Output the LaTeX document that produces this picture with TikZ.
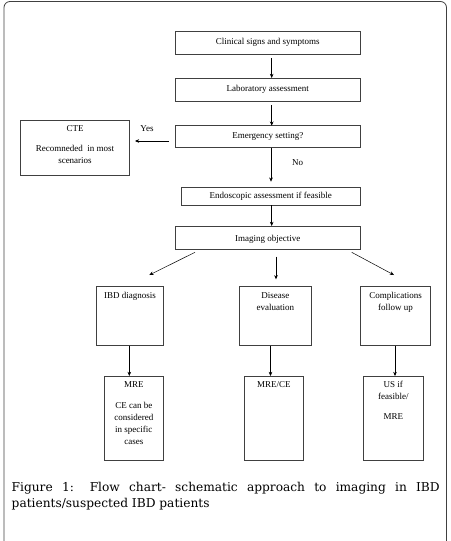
\documentclass[tikz,border=0pt]{standalone}
\usepackage{fontspec}
\setmainfont{Liberation Serif}
\newfontfamily\capfont{DejaVu Serif}
\usetikzlibrary{arrows.meta}
\begin{document}
\begin{tikzpicture}[x=1pt,y=-1pt,
  box/.style={draw=black!75, line width=0.6pt, inner sep=0pt, outer sep=0pt,
    font=\fontsize{9}{12.2}\selectfont, text height=6pt, text depth=2pt},
  txt/.style={inner sep=0pt, align=center, anchor=north, font=\fontsize{9}{12.2}\selectfont},
  lbl/.style={inner sep=0pt, font=\fontsize{9}{12.2}\selectfont, text height=6pt, text depth=2pt},
  arr/.style={line width=0.5pt, -{Stealth[length=4.2pt,width=3.6pt]}}]
\useasboundingbox (0,0) rectangle (450,541);
\draw[black!75, line width=0.8pt, rounded corners=6pt] (4,1.5) rectangle (446.5,548);

% top boxes
\node[box, minimum width=184.3pt, minimum height=22.3pt] (clin) at (267.85,42.85) {Clinical signs and symptoms};
\node[box, minimum width=184.3pt, minimum height=23pt] (lab) at (267.85,89.5) {Laboratory assessment};
\node[box, minimum width=184.3pt, minimum height=22pt] (emer) at (267.85,136.7) {Emergency setting?};
\node[box, minimum width=108.6pt, minimum height=54.3pt] (cte) at (75,147.85) {};
\node[box, minimum width=178.3pt, minimum height=17.7pt] (endo) at (270.85,196.15) {Endoscopic assessment if feasible};
\node[box, minimum width=184.3pt, minimum height=23pt, text height=7.5pt, text depth=0.5pt] (img) at (267.85,237.5) {Imaging objective};

% middle boxes
\node[box, minimum width=66.6pt, minimum height=59pt] (ibd) at (130,316.2) {};
\node[box, minimum width=72.7pt, minimum height=59pt] (dis) at (275.35,316.2) {};
\node[box, minimum width=70.4pt, minimum height=59pt] (comp) at (395.5,316.2) {};

% bottom boxes
\node[box, minimum width=59pt, minimum height=84pt] (mre) at (133.8,418) {};
\node[box, minimum width=59pt, minimum height=84pt] (mrece) at (273.8,418) {};
\node[box, minimum width=60pt, minimum height=84pt] (us) at (393.3,418) {};

% texts in boxes
\node[txt] (cteT) at (75,122.76) {\strut CTE\\[7.6pt]Recomneded\ \ in most\\scenarios};
\node[txt] (ibdT) at (130,289.46) {\strut IBD diagnosis};
\node[txt] (disT) at (275.35,289.46) {\strut Disease\\evaluation};
\node[txt] (compT) at (395.5,289.46) {\strut Complications\\follow up};
\node[txt] (mreT) at (133.8,378.76) {\strut MRE\\[8.5pt]CE can be\\considered\\in specific\\cases};
\node[txt] (mreceT) at (273.8,378.76) {\strut MRE/CE};
\node[txt] (usT) at (393.3,378.76) {\strut US if\\feasible/\\[7.8pt]MRE};

% labels
\node[lbl] (yes) at (147,129.5) {Yes};
\node[lbl] (no) at (297.7,163.5) {No};

% connectors
\coordinate (a1) at (271.7,58);
\draw[arr] (a1) -- (a1 |- lab.north);
\coordinate (a2) at (271.7,105);
\draw[arr] (a2) -- (a2 |- emer.north);
\coordinate (yesS) at (169,141);
\coordinate (yesE) at (135,141);
\draw[arr] (yesS) -- (yesE);
\coordinate (a3e) at (271,181.7);
\draw[arr] ([xshift=3.15pt]emer.south) -- (a3e);
\draw[arr] ([xshift=0.85pt]endo.south) -- ([xshift=3.85pt]img.north);

\coordinate (d1s) at (195,252.3);
\coordinate (d1e) at (149.3,275);
\coordinate (d2s) at (276,256.7);
\coordinate (d2e) at (276,279.3);
\coordinate (d3s) at (351.7,252.3);
\coordinate (d3e) at (394,275);
\draw[arr] (d1s) -- (d1e);
\draw[arr] (d2s) -- (d2e);
\draw[arr] (d3s) -- (d3e);

\draw[arr] ([xshift=-0.7pt]ibd.south) coordinate (b1) -- (b1 |- mre.north);
\draw[arr] ([xshift=-4.85pt]dis.south) coordinate (b2) -- (b2 |- mrece.north);
\draw[arr] ([xshift=-0.5pt]comp.south) coordinate (b3) -- (b3 |- us.north);

% caption
\node[anchor=base west, inner sep=0pt, font=\capfont\fontsize{12.2}{16.7}\selectfont] (cap) at (11.5,491)
  {\parbox[t]{428pt}{\tolerance=10000 Figure 1: Flow chart- schematic approach to imaging in IBD\linebreak patients/suspected IBD patients}};
\end{tikzpicture}
\end{document}
